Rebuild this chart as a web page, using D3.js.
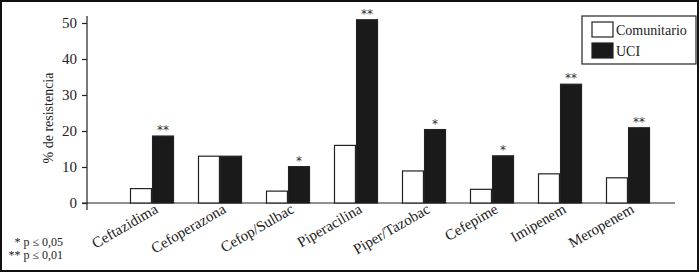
<!DOCTYPE html>
<html lang="es">
<head>
<meta charset="UTF-8">
<title>% de resistencia</title>
<script src="https://cdn.jsdelivr.net/npm/d3@7"></script>
<style>
    body { margin: 0; background: #fff; }
    text { font-family: "Liberation Serif", "Times New Roman", serif; fill: #222; }
    text.sig { font-family: "DejaVu Sans", sans-serif; fill: #333; }
</style>
</head>
<body>
<svg width="700" height="273"></svg>
<script>
    const categories = ["Ceftazidima", "Cefoperazona", "Cefop/Sulbac", "Piperacilina",
                        "Piper/Tazobac", "Cefepime", "Imipenem", "Meropenem"];
    const series     = ["Comunitario", "UCI"];
    const comunitario = [4, 13, 3.3, 16, 8.9, 3.8, 8.1, 7];
    const uci         = [18.6, 13, 10.1, 50.9, 20.4, 13.1, 33, 20.9];
    const signif      = ["**", "", "*", "**", "*", "*", "**", "**"];
    const yTicks      = [0, 10, 20, 30, 40, 50];
    const footnotes   = ["* p \u2264 0,05", "** p \u2264 0,01"];

    const svg = d3.select("svg");

    // frame around the whole figure
    svg.append("rect")
       .attr("x", 1).attr("y", 1).attr("width", 697).attr("height", 270)
       .attr("fill", "none").attr("stroke", "#111").attr("stroke-width", 2);

    const y = d3.scaleLinear().domain([0, 50]).range([203, 23]);
    const x = d3.scaleBand().domain(categories).range([118, 662]).paddingInner(0).paddingOuter(0);
    const x1 = d3.scaleBand().domain(series).range([0, 43]).paddingInner(0.05);
    const fill = d3.scaleOrdinal().domain(series).range(["#fff", "#1a1a1a"]);

    // y axis
    const yAxis = svg.append("g")
        .attr("transform", "translate(87,0)")
        .call(d3.axisLeft(y).tickValues(yTicks).tickSize(5).tickPadding(5));
    yAxis.select(".domain").attr("d", "M0," + 16 + "V" + 210);
    yAxis.selectAll("line, path").attr("stroke", "#222").attr("stroke-width", 1.2);
    yAxis.selectAll("text").attr("font-family", "Liberation Serif")
         .attr("font-size", 15).attr("fill", "#333");

    // baseline
    svg.append("line")
       .attr("x1", 82).attr("x2", 675).attr("y1", y(0)).attr("y2", y(0))
       .attr("stroke", "#222").attr("stroke-width", 1.2);

    svg.append("text")
       .attr("transform", "translate(53,118) rotate(-90)")
       .attr("text-anchor", "middle")
       .attr("font-size", 14)
       .text("% de resistencia");

    const rows = categories.map((c, i) => ({cat: c, vals: [comunitario[i], uci[i]], sig: signif[i]}));

    const groups = svg.selectAll("g.grp")
        .data(rows)
        .join("g").attr("class", "grp")
          .attr("transform", d => "translate(" + (x(d.cat) + x.bandwidth() / 2 - 21.5) + ",0)");

    groups.selectAll("rect")
        .data(d => d.vals.map((v, j) => ({s: series[j], v: v})))
        .join("rect")
          .attr("x", d => x1(d.s))
          .attr("y", d => y(d.v))
          .attr("width", x1.bandwidth())
          .attr("height", d => y(0) - y(d.v))
          .attr("fill", d => fill(d.s))
          .attr("stroke", "#222")
          .attr("stroke-width", 1.2);

    // significance marks above the UCI bar
    groups.append("text").attr("class", "sig")
        .attr("x", x1("UCI") + x1.bandwidth() / 2)
        .attr("y", d => y(d.vals[1]) - 2)
        .attr("text-anchor", "middle")
        .attr("font-size", 12)
        .text(d => d.sig);

    // rotated category labels
    svg.selectAll("text.cat")
        .data(categories)
        .join("text").attr("class", "cat")
          .attr("transform", d => "translate(" + (x(d) + x.bandwidth() / 2 + 7) + ",212) rotate(-30)")
          .attr("text-anchor", "end")
          .attr("font-size", 15)
          .text(d => d);

    // legend
    const lg = svg.append("g").attr("transform", "translate(582,16)");
    lg.append("rect").attr("width", 114).attr("height", 48)
      .attr("fill", "#fff").attr("stroke", "#222").attr("stroke-width", 1.2);
    series.forEach((s, i) => {
        lg.append("rect")
          .attr("x", 10).attr("y", 6 + i * 21).attr("width", 21).attr("height", 15)
          .attr("fill", fill(s)).attr("stroke", "#222").attr("stroke-width", 1.2);
        lg.append("text")
          .attr("x", 34).attr("y", 19 + i * 21)
          .attr("font-size", 14)
          .text(s);
    });

    // significance footnotes
    svg.selectAll("text.note")
        .data(footnotes)
        .join("text").attr("class", "note")
          .attr("x", 63).attr("y", (d, i) => 246 + i * 13)
          .attr("text-anchor", "end")
          .attr("font-size", 12)
          .text(d => d);
</script>
</body>
</html>
